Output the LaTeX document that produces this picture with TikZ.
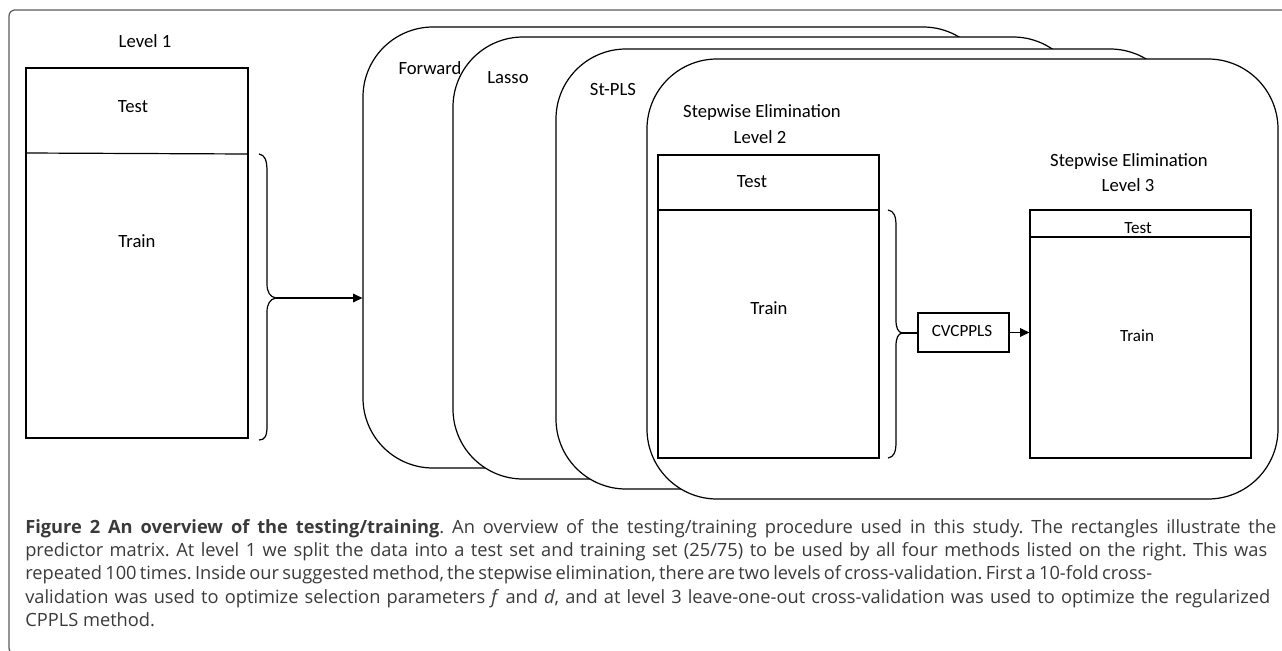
\documentclass[tikz,border=0pt]{standalone}
\usepackage{fontspec}
\setmainfont{Carlito}
\newfontfamily\capfont{Open Sans}
\usetikzlibrary{arrows.meta,fit}
\definecolor{framegray}{HTML}{5A5A5A}
\definecolor{captext}{HTML}{3A3A3A}
\tikzset{
  ln/.style={line width=0.9pt, draw=black},
  methodbox/.style={ln, fill=white, rounded corners=52.5pt, inner sep=0pt},
  matbox/.style={ln, fill=white, inner sep=0pt},
  lbl/.style={font=\fontsize{14}{16}\selectfont, inner sep=0pt},
  slbl/.style={font=\fontsize{12.8}{14}\selectfont, inner sep=0pt},
  capline/.style={anchor=base west, inner sep=0pt, font=\capfont\fontsize{13.7}{16}\selectfont\frenchspacing, text=captext},
  arr/.style={ln, -{Triangle[length=7pt,width=6.5pt]}},
}
\begin{document}
\begin{tikzpicture}[x=0.75pt,y=-0.75pt]
\useasboundingbox (0,0) rectangle (1282,650);
\clip (0,0) rectangle (1282,650);
% outer frame
\draw[framegray, line width=0.9pt, rounded corners=4.5pt] (1300,10) -- (9,10) -- (9,654) -- (40,654);

% Level 1
\node[lbl] (lv1) at (145,41) {Level 1};
\node[matbox, fit={(26,68) (248,438)}] (L1) {};
\draw[ln] (26,153) -- (248,154);
\node[lbl] (t1) at (133,107) {Test};
\node[lbl] (r1) at (137,241) {Train};

% brace 1
\coordinate (b1tip) at (276,298);
\draw[ln] (259,154) .. controls (265,155) and (267,160) .. (267,172) -- (267,284)
  .. controls (267,292) and (270,297) .. (b1tip)
  .. controls (270,299) and (267,304) .. (267,312) -- (267,426)
  .. controls (267,436) and (265,440) .. (259,440);

% method boxes
\node[methodbox, fit={(363,27) (993,468)}] (Fw) {};
\node[methodbox, fit={(453,37) (1083,479)}] (La) {};
\node[methodbox, fit={(556,49) (1180,489)}] (St) {};
\node[methodbox, fit={(647,59) (1278,499)}] (SE) {};
\node[lbl] (fwl) at (430,68) {Forward};
\node[lbl] (lal) at (508,78) {Lasso};
\node[lbl] (stl) at (613,90) {St-PLS};

\draw[arr] (b1tip) -- (b1tip -| Fw.west);

% level 2
\node[lbl] (se2a) at (762,113) {Stepwise Elimination};
\node[lbl] (se2b) at (760,137) {Level 2};
\node[matbox, fit={(658,155) (879,458)}] (L2) {};
\draw[ln] (658,210) -- (879,210);
\node[lbl] (t2) at (752,182) {Test};
\node[lbl] (r2) at (769,308) {Train};

% brace 2
\coordinate (b2tip) at (902,333);
\draw[ln] (888,210) .. controls (894,211) and (896,216) .. (896,226) -- (896,320)
  .. controls (896,328) and (898,332) .. (b2tip)
  .. controls (898,334) and (896,338) .. (896,346) -- (896,442)
  .. controls (896,452) and (894,457) .. (888,458);

\node[ln, fill=white, inner sep=0pt, fit={(918,313) (1009,352)}] (CV) {};
\node[slbl] (cvl) at (962,331) {CVCPPLS};
\draw[ln] (b2tip) -- (b2tip -| CV.west);

% level 3
\node[lbl] (se3a) at (1129,162) {Stepwise Elimination};
\node[lbl] (se3b) at (1128,185) {Level 3};
\node[matbox, fit={(1030,210) (1251,458)}] (L3) {};
\draw[ln] (1030,237) -- (1251,237);
\node[slbl] (t3) at (1138,228) {Test};
\node[slbl] (r3) at (1137,336) {Train};

\draw[arr] (CV.east) -- (CV.east -| L3.west);

% caption
\node[capline] (c1) at (25,533) {\makebox[938.25pt][s]{\textbf{Figure 2 An overview of the testing/training}. An overview of the testing/training procedure used in this study. The rectangles illustrate the}};
\node[capline] (c2) at (25,556.3) {\makebox[931.5pt][s]{predictor matrix. At level 1 we split the data into a test set and training set (25/75) to be used by all four methods listed on the right. This was}};
\node[capline] (c3) at (25,579.6) {\makebox[845.25pt][s]{repeated 100 times. Inside our suggested method, the stepwise elimination, there are two levels of cross-validation. First a 10-fold cross-}};
\node[capline] (c4) at (25,603) {\makebox[933.75pt][s]{validation was used to optimize selection parameters \textit{f} and \textit{d}, and at level 3 leave-one-out cross-validation was used to optimize the regularized}};
\node[capline] (c5) at (25,626) {CPPLS method.};
\end{tikzpicture}
\end{document}
